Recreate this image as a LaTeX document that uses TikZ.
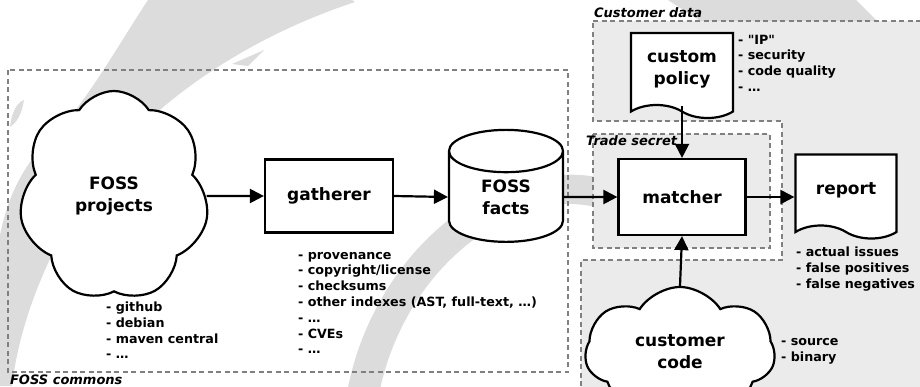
\documentclass[tikz,border=0pt]{standalone}
\usepackage{fontspec}
\setmainfont{DejaVu Sans}
\newfontfamily\plainsans{DejaVu Sans}
\usetikzlibrary{arrows.meta,positioning,calc,shapes.geometric,shapes.symbols}
\definecolor{swoosh}{HTML}{DCDCDC}
\definecolor{zone}{HTML}{EBEBEB}
\definecolor{frame}{HTML}{808080}

\begin{document}
\begin{tikzpicture}[x=1pt, y=-1pt, line width=2.2pt, >={Triangle[length=14pt,width=14pt]},
    font=\fontsize{17}{22}\selectfont\bfseries,
    proc/.style={draw, fill=white, rectangle, align=center, inner sep=0pt},
    blob/.style={draw, fill=white, cloud, cloud puffs=7, cloud puff arc=115, cloud ignores aspect, align=center, inner sep=0pt},
    db/.style={draw, fill=white, cylinder, shape border rotate=90, shape aspect=0.85, align=center, inner sep=0pt},
    paper/.style={draw, fill=white, tape, tape bend top=none, tape bend bottom=out and in, tape bend height=13pt, align=center, inner sep=0pt},
    notes/.style={anchor=north west, align=left, inner sep=0pt, font=\plainsans\fontsize{12.7}{15.8}\selectfont\bfseries, execute at begin node=\strut},
    zonebox/.style={draw=frame, line width=1.1pt, dash pattern=on 5pt off 3.5pt},
    zonelabel/.style={anchor=base west, inner sep=0pt, font=\fontsize{13}{15}\selectfont\bfseries\itshape}]
  \useasboundingbox (0,0) rectangle (920,386);
  \clip (0,0) rectangle (920,386);
  % ================================================================ background swooshes
  \fill[swoosh] (148,0) .. controls (118,45) and (80,115) .. (38,152) .. controls (18,175) and (6,205) .. (0,235)
     -- (0,386) -- (12,386) .. controls (22,300) and (70,200) .. (140,128) .. controls (195,75) and (270,30) .. (355,2) -- (352,0) -- cycle;
  \fill[swoosh] (232,64) -- (264,50) -- (248,66) -- cycle;
  \fill[swoosh] (10,127) .. controls (12,110) and (18,102) .. (24,100) .. controls (22,112) and (18,122) .. (10,127);
  \fill[swoosh] (346,400) .. controls (360,300) and (440,185) .. (560,175) .. controls (590,173) and (615,180) .. (640,190)
     -- (640,222) .. controls (610,208) and (585,203) .. (560,204) .. controls (470,215) and (395,300) .. (378,400) -- cycle;
  \fill[swoosh] (668,0) -- (702,22) -- (878,22) -- (856,0) -- cycle;
  % ================================================================ zones
  \draw[zonebox, fill=zone] (593,21) -- (930,21) -- (930,396) -- (581,396) -- (581,260) -- (782,260) -- (782,121) -- (593,121) -- cycle;
  \draw[zonebox, fill=zone] (593,134) rectangle (770,248);
  \draw[zonebox] (8,70) rectangle (568,372);
  \node[zonelabel] (customer-label) at (593,17.5) {Customer data};
  \node[zonelabel] (secret-label) at (585,145.5) {Trade secret};
  \node[zonelabel] (commons-label) at (9,384) {FOSS commons};
  % ================================================================ pipeline
  \node[blob, minimum width=190pt, minimum height=210pt] (projects) at (114,196) {FOSS\\projects};
  \node[proc, minimum width=128pt, minimum height=73pt] (gatherer) at (329,196) {gatherer};
  \node[db, minimum width=114pt, minimum height=112pt] (facts) at (506,197) {FOSS\\facts};
  \node[proc, minimum width=127pt, minimum height=76pt] (matcher) at (682,197) {matcher};
  \node[paper, minimum width=102pt, minimum height=85pt] (policy) at (682,69) {custom\\policy};
  \node[paper, minimum width=101pt, minimum height=84pt] (report) at (846,190) {report};
  \node[blob, minimum width=190pt, minimum height=130pt] (code) at (680,352) {customer\\code};
  % arrows
  \draw[->] (projects.east) -- (gatherer.west);
  \draw[->] (gatherer.east) -- (facts.west);
  \draw[->] (facts.east) -- (matcher.west);
  \draw[->] (matcher.east) -- (matcher.east -| report.west);
  \draw[->] (policy.south) -- (matcher.north);
  \draw[->] (code.north) -- (matcher.south);
  % ================================================================ notes
  \node[notes] (projects-notes) at (105,300.8) {- github\\- debian\\- maven central\\- …};
  \node[notes] (gatherer-notes) at (297,250.8) {- provenance\\- copyright/license\\- checksums\\- other indexes (AST, full-text, …)\\- …\\- CVEs\\- …};
  \node[notes] (policy-notes) at (737,33.8) {- "IP"\\- security\\- code quality\\- …};
  \node[notes] (report-notes) at (795,246) {- actual issues\\- false positives\\- false negatives};
  \node[notes] (code-notes) at (780,337) {- source\\- binary};
\end{tikzpicture}
\end{document}
